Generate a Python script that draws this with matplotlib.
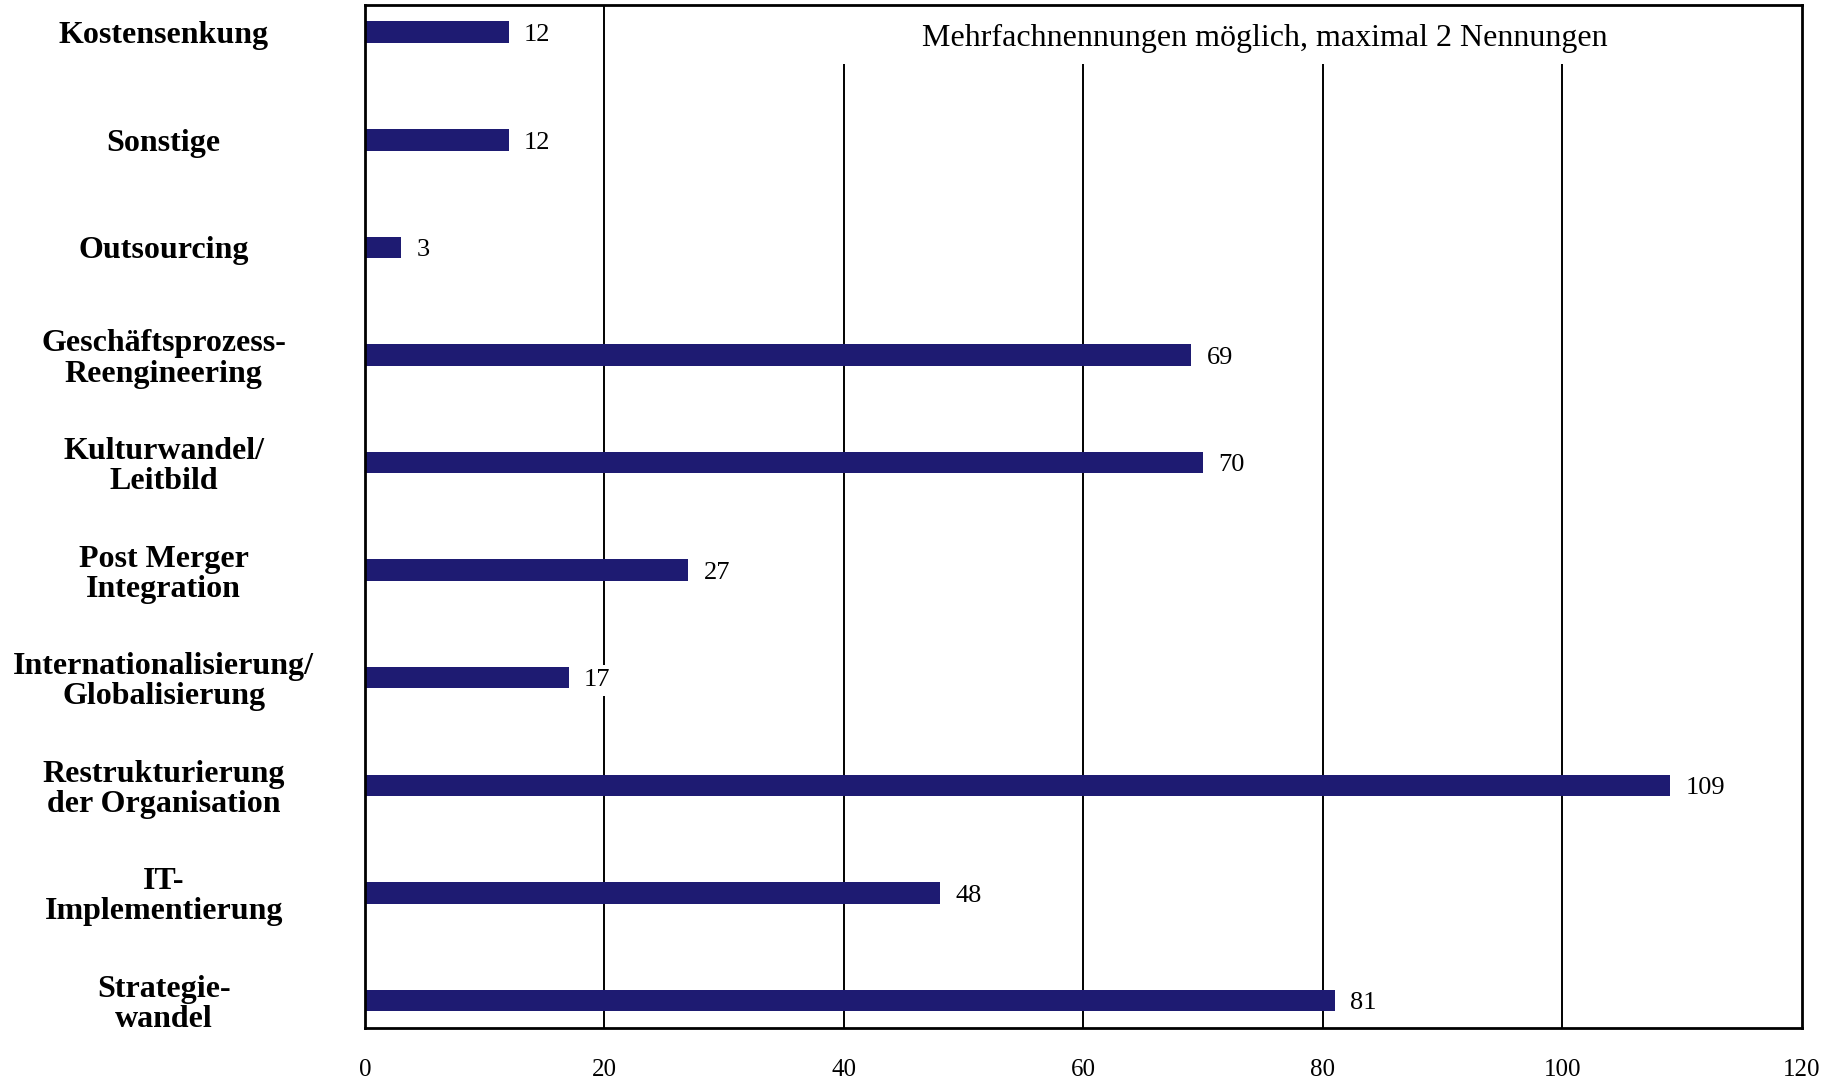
import matplotlib
matplotlib.use("Agg")
import matplotlib.pyplot as plt
import numpy as np
from matplotlib.patches import Rectangle

categories = [
    "Kostensenkung",
    "Sonstige",
    "Outsourcing",
    "Geschäftsprozess-\nReengineering",
    "Kulturwandel/\nLeitbild",
    "Post Merger\nIntegration",
    "Internationalisierung/\nGlobalisierung",
    "Restrukturierung\nder Organisation",
    "IT-\nImplementierung",
    "Strategie-\nwandel",
]
values = [12, 12, 3, 69, 70, 27, 17, 109, 48, 81]
xticks = [0, 20, 40, 60, 80, 100, 120]
note = "Mehrfachnennungen möglich, maximal 2 Nennungen"

plt.rcParams['font.family'] = ['Liberation Serif', 'DejaVu Serif']

fig = plt.figure(figsize=(18.38, 10.82), dpi=100)
ax = fig.add_axes([0.1986, 0.0499, 0.9803 - 0.1986, 0.9957 - 0.0499])

n = len(categories)
ypos = np.arange(n)[::-1]
bar_color = '#1e1b72'
ax.barh(ypos, values, height=0.2, color=bar_color, zorder=3)

ax.set_xlim(0, 120)
ax.set_ylim(-0.256, n - 1 + 0.256)

# gridlines
ax.set_xticks(xticks)
ax.set_xticklabels([str(t) for t in xticks], fontsize=18)
ax.tick_params(axis='x', length=0, pad=22)
for t in xticks[1:-1]:
    ax.axvline(t, color='black', lw=1.4, zorder=1)

ax.set_yticks(ypos)
ax.set_yticklabels(categories, fontsize=23, fontweight='bold', linespacing=1.05)
ax.tick_params(axis='y', length=0, pad=145)
for lbl in ax.get_yticklabels():
    lbl.set_horizontalalignment('center')

for s in ax.spines.values():
    s.set_linewidth(2)
    s.set_color('black')
    s.set_zorder(6)

# value labels
for y, v in zip(ypos, values):
    ax.annotate(str(v), xy=(v, y), xytext=(11, -2), textcoords='offset points',
                ha='left', va='center', fontsize=19, zorder=5,
                bbox=dict(fc='white', ec='none', pad=3))

# note box at top
ax.add_patch(Rectangle((0.253, 0.9416), 1 - 0.253, 1 - 0.9416, transform=ax.transAxes,
                       fc='white', ec='none', zorder=2))
ax.text((1079 - 311) / (1537 - 311), (877 - 33) / (877 - 4), note, transform=ax.transAxes,
        ha='center', va='center', fontsize=23, zorder=4)

fig.savefig('out.png', dpi=100)
